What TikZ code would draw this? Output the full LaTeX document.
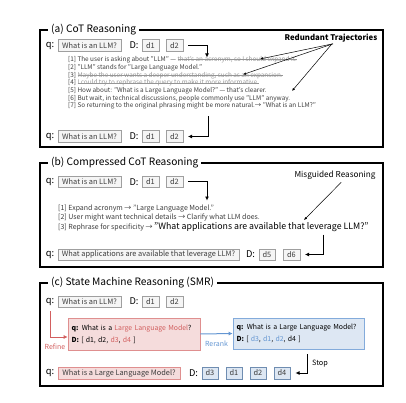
\documentclass[tikz,border=0pt]{standalone}
\usepackage{fontspec}
\setmainfont{Noto Sans CJK KR}
\usetikzlibrary{arrows.meta,positioning,calc}
\definecolor{refineRed}{RGB}{210,95,95}
\definecolor{refineFill}{RGB}{245,220,220}
\definecolor{rerankBlue}{RGB}{100,150,210}
\definecolor{rerankFill}{RGB}{221,231,243}
\definecolor{strikeGray}{RGB}{150,150,150}
\definecolor{textGray}{RGB}{60,60,60}
\newcommand{\strk}[1]{{\setbox0\hbox{#1}\rlap{\raisebox{0.55ex}{\rule{\wd0}{0.35pt}}}\box0}}

\begin{document}
\begin{tikzpicture}[x=1pt,y=-1pt,
        panel/.style={draw, line width=1.1pt},
        ttl/.style={fill=white, anchor=west, inner xsep=3pt, inner ysep=1pt,
                    font=\fontsize{10.2}{11}\selectfont},
        ql/.style={inner sep=0pt, font=\fontsize{9.3}{10}\selectfont},
        bx/.style={draw=gray!75, fill=gray!8, line width=0.5pt, inner sep=1pt,
                   minimum height=11.5pt, text=textGray, font=\fontsize{7.4}{8}\selectfont},
        db/.style={bx, minimum width=16.5pt},
        ln/.style={anchor=west, inner sep=0pt, text=textGray, font=\fontsize{6.4}{7}\selectfont},
        note/.style={inner sep=0pt, font=\bfseries\fontsize{7.8}{8}\selectfont},
        arr/.style={-{Latex[length=4pt,width=4pt]}, line width=1pt},
        ptr/.style={-{Latex[length=3pt,width=2.5pt]}, line width=0.5pt},
        stbox/.style={draw, line width=0.6pt, align=left, inner xsep=3.5pt,
                      font=\fontsize{6.9}{12}\selectfont}
      ]
        \useasboundingbox (0,0) rectangle (406,403);
        % (a) CoT reasoning
        \draw[panel] (40,30) rectangle (383,147);
        \node[ttl] (ta) at (48,30) {(a) CoT Reasoning};
        \node[ql] (qa1) at (50,45.5) {q:};
        \node[bx, minimum width=63pt] (qba1) at (89.5,45.5) {What is an LLM?};
        \node[ql] (Da1) at (134,45.5) {D:};
        \node[db] (d1a1) at (150.5,45.5) {d1};
        \node[db] (d2a1) at (174.5,45.5) {d2};
        \coordinate (inA) at (207,57.5);
        \draw[arr] ([xshift=5pt]d2a1.east) -| (inA);
        \node[ln] (a1) at (68,60) {[1] The user is asking about "LLM" — {\color{strikeGray}\strk{that's an acronym, so I should expand it.}}};
        \node[ln] (a2) at (68,67.7) {[2] "LLM" stands for "Large Language Model."};
        \node[ln] (a3) at (68,75.4) {[3] {\color{strikeGray}\strk{Maybe the user wants a deeper understanding, such as an expansion.}}};
        \node[ln] (a4) at (68,83.1) {[4] {\color{strikeGray}\strk{I could try to rephrase the query to make it more informative.}}};
        \node[ln] (a5) at (68,90.8) {[5] How about: "What is a Large Language Model?" — that's clearer.};
        \node[ln] (a6) at (68,98.5) {[6] But wait, in technical discussions, people commonly use "LLM" anyway.};
        \node[ln] (a7) at (68,106.2) {[7] So returning to the original phrasing might be more natural.→ "What is an LLM?"};
        \node[note] (redund) at (331,38) {Redundant Trajectories};
        \coordinate (ra1) at (260,59);
        \coordinate (ra2) at (243,74.5);
        \coordinate (ra3) at (292,91);
        \draw[ptr] ([xshift=2pt,yshift=-1.5pt]redund.south) -- (ra1);
        \draw[ptr] ([xshift=2pt,yshift=-1.5pt]redund.south) -- (ra2);
        \draw[ptr] ([xshift=1pt,yshift=-1.5pt]redund.south) -- (ra3);
        \coordinate (outA) at (208,116.5);
        \node[ql] (qa2) at (50,136.5) {q:};
        \node[bx, minimum width=63pt] (qba2) at (89.5,136.5) {What is an LLM?};
        \node[ql] (Da2) at (134,136.5) {D:};
        \node[db] (d1a2) at (150.5,136.5) {d1};
        \node[db] (d2a2) at (174.5,136.5) {d2};
        \draw[arr] (outA) |- ([xshift=5pt]d2a2.east);

        % (b) compressed CoT
        \draw[panel] (40,163) rectangle (383,267);
        \node[ttl] (tb) at (48,163) {(b) Compressed CoT Reasoning};
        \node[ql] (qb1) at (50,182) {q:};
        \node[bx, minimum width=63pt] (qbb1) at (89.5,182) {What is an LLM?};
        \node[ql] (Db1) at (134,182) {D:};
        \node[db] (d1b1) at (150.5,182) {d1};
        \node[db] (d2b1) at (174.5,182) {d2};
        \coordinate (inB) at (207,200.5);
        \draw[arr] ([xshift=5pt]d2b1.east) -| (inB);
        \node[ln, font=\fontsize{7}{7}\selectfont] (b1) at (58,209) {[1] Expand acronym → "Large Language Model."};
        \node[ln, font=\fontsize{7}{7}\selectfont] (b2) at (58,217.5) {[2] User might want technical details → Clarify what LLM does.};
        \node[ln, font=\fontsize{7}{7}\selectfont] (b3) at (58,227) {[3] Rephrase for specificity → {\color{black}\fontsize{8.8}{9}\selectfont "What applications are available that leverage LLM?"}};
        \node[note, font=\fontsize{8.2}{8}\selectfont] (misg) at (335,175) {Misguided Reasoning};
        \coordinate (mg) at (304,220);
        \draw[ptr, shorten <=4pt] ([xshift=9pt]misg.south) -- (mg);
        \coordinate (outB) at (323,234.5);
        \node[ql] (qb2) at (50,254.5) {q:};
        \node[bx, minimum width=181pt] (qbb2) at (148.5,254.5) {What applications are available that leverage LLM?};
        \node[ql] (Db2) at (250.5,254.5) {D:};
        \node[db] (d5b2) at (267,254.5) {d5};
        \node[db] (d6b2) at (291.5,254.5) {d6};
        \draw[arr] (outB) |- ([xshift=5pt]d6b2.east);

        % (c) state machine reasoning
        \draw[panel] (40,283) rectangle (383,386);
        \node[ttl] (tc) at (48,283) {(c) State Machine Reasoning (SMR)};
        \node[ql] (qc1) at (50,301.5) {q:};
        \node[bx, minimum width=63pt] (qbc1) at (89.5,301.5) {What is an LLM?};
        \node[ql] (Dc1) at (134,301.5) {D:};
        \node[db] (d1c1) at (150.5,301.5) {d1};
        \node[db] (d2c1) at (174.5,301.5) {d2};
        \node[stbox, draw=refineRed!70, fill=refineFill, minimum width=132pt, minimum height=32pt, text width=125pt] (refst) at (134,334)
          {\textbf{q:} What is a {\color{refineRed}Large Language Model}?\\ \textbf{D:} [ d1, d2, {\color{refineRed}d3}, {\color{refineRed}d4} ]};
        \node[stbox, draw=rerankBlue!80, fill=rerankFill, minimum width=131pt, minimum height=31pt, text width=124pt] (rrst) at (298.5,333.5)
          {\textbf{q:} What is a Large Language Model?\\ \textbf{D:} [ {\color{rerankBlue}d3}, {\color{rerankBlue}d1}, {\color{rerankBlue}d2}, d4 ]};
        \draw[arr, refineRed, shorten <=6pt] (qc1.south) |- ([yshift=-3pt]refst.west);
        \node[font=\fontsize{7}{7}\selectfont, text=refineRed] (rfl) at (55,347) {Refine};
        \draw[arr, rerankBlue] (refst.east) -- (rrst.west)
          node[midway, below=3pt, font=\fontsize{7}{7}\selectfont, text=rerankBlue] {Rerank};
        \coordinate (stopC) at (307,354);
        \node[font=\fontsize{7.3}{7}\selectfont] (stl) at (320,363.5) {Stop};
        \node[ql] (qc2) at (50,373) {q:};
        \node[bx, draw=refineRed!70, fill=refineFill, minimum width=122pt] (qbc2) at (119,373) {What is a Large Language Model?};
        \node[ql] (Dc2) at (193.5,373) {D:};
        \node[db, draw=rerankBlue!60!gray, fill=rerankFill] (d3c2) at (210,373) {d3};
        \node[db, draw=rerankBlue!60!gray, fill=rerankFill] (d1c2) at (234,373) {d1};
        \node[db, draw=rerankBlue!60!gray, fill=rerankFill] (d2c2) at (258,373) {d2};
        \node[db, draw=rerankBlue!60!gray, fill=rerankFill] (d4c2) at (282,373) {d4};
        \draw[arr] (stopC) |- ([xshift=5pt]d4c2.east);
      \end{tikzpicture}
\end{document}
